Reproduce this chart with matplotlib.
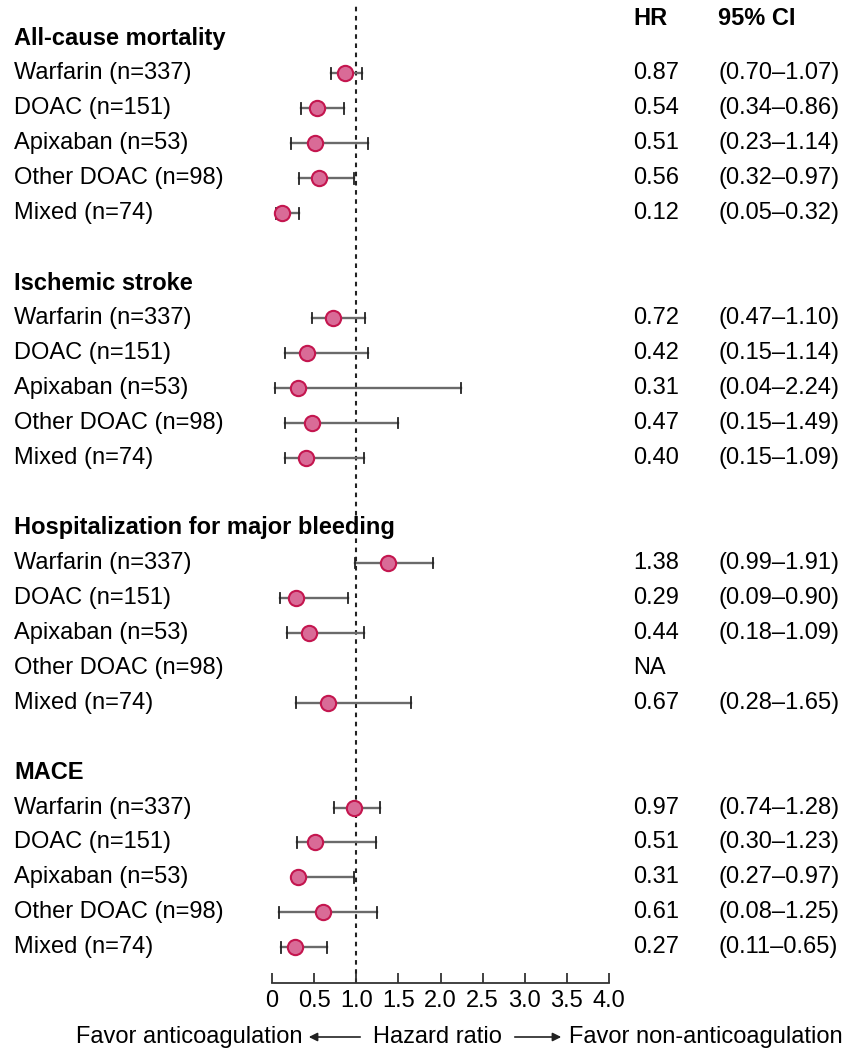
import matplotlib
matplotlib.use("Agg")
import matplotlib.pyplot as plt
import matplotlib.transforms as mtransforms
import numpy as np

plt.rcParams['font.family'] = ['Liberation Sans', 'DejaVu Sans']

outcomes = ["All-cause mortality", "Ischemic stroke",
            "Hospitalization for major bleeding", "MACE"]
groups = ["Warfarin (n=337)", "DOAC (n=151)", "Apixaban (n=53)",
          "Other DOAC (n=98)", "Mixed (n=74)"]

# HR and 95% CI per outcome, same order as groups (None = NA)
hr = [[0.87, 0.54, 0.51, 0.56, 0.12],
      [0.72, 0.42, 0.31, 0.47, 0.40],
      [1.38, 0.29, 0.44, None, 0.67],
      [0.97, 0.51, 0.31, 0.61, 0.27]]
ci_lo = [[0.70, 0.34, 0.23, 0.32, 0.05],
         [0.47, 0.15, 0.04, 0.15, 0.15],
         [0.99, 0.09, 0.18, None, 0.28],
         [0.74, 0.30, 0.27, 0.08, 0.11]]
ci_hi = [[1.07, 0.86, 1.14, 0.97, 0.32],
         [1.10, 1.14, 2.24, 1.49, 1.09],
         [1.91, 0.90, 1.09, None, 1.65],
         [1.28, 1.23, 0.97, 1.25, 0.65]]
xticks = [0, 0.5, 1.0, 1.5, 2.0, 2.5, 3.0, 3.5, 4.0]
xticklabels = ["0", "0.5", "1.0", "1.5", "2.0", "2.5", "3.0", "3.5", "4.0"]

W, H = 843, 1051
fig = plt.figure(figsize=(W / 100, H / 100), dpi=100)
ax = fig.add_axes([272 / W, 68 / H, 337 / W, (1046 - 68) / H])
ax.set_xlim(0, 4)
ax.set_ylim(27.02, -0.958)

fs = 17
trans = mtransforms.blended_transform_factory(fig.transFigure, ax.transData)

# header row for the numeric columns
ax.text(633 / W, -0.57, "HR", transform=trans, fontsize=fs, fontweight='bold',
        va='center', ha='left')
ax.text(718 / W, -0.57, "95% CI", transform=trans, fontsize=fs, fontweight='bold',
        va='center', ha='left')

for k, name in enumerate(outcomes):
    y0 = k * 7
    ax.text(14 / W, y0, name, transform=trans, fontsize=fs, fontweight='bold',
            va='center', ha='left')
    for j, g in enumerate(groups):
        y = y0 + 1 + j
        ax.text(14 / W, y, g, transform=trans, fontsize=fs, va='center', ha='left')
        h = hr[k][j]
        if h is None:
            ax.text(633 / W, y, "NA", transform=trans, fontsize=fs, va='center', ha='left')
            continue
        lo, hi = ci_lo[k][j], ci_hi[k][j]
        ax.text(633 / W, y, f"{h:.2f}", transform=trans, fontsize=fs,
                va='center', ha='left')
        ax.text(718 / W, y, f"({lo:.2f}\u2013{hi:.2f})", transform=trans,
                fontsize=fs, va='center', ha='left')
        ax.plot([lo, hi], [y, y], color='#6a6a6a', lw=1.7, zorder=2)
        ax.plot([lo, lo], [y - 0.15, y + 0.15], color='#222222', lw=1.3, zorder=2)
        ax.plot([hi, hi], [y - 0.15, y + 0.15], color='#222222', lw=1.3, zorder=2)
        ax.plot(h, y, 'o', ms=11, mfc='#d96b97', mec='#c4164f', mew=1.5, zorder=3)

ax.axvline(1.0, color='#222222', lw=1.5, ls=(0, (2.2, 2.2)), zorder=1)

for s in ['top', 'right', 'left']:
    ax.spines[s].set_visible(False)
ax.spines['bottom'].set_color('#333333')
ax.spines['bottom'].set_linewidth(1.3)
ax.set_yticks([])
ax.set_xticks(xticks)
ax.set_xticklabels(xticklabels)
ax.tick_params(axis='x', direction='in', length=7, width=1.3, color='#333333',
               labelsize=fs, pad=5)

# bottom caption
yb = 1 - 1037 / H
fig.text(76 / W, yb, "Favor anticoagulation", fontsize=fs, va='center', ha='left')
fig.text(437 / W, yb, "Hazard ratio", fontsize=fs, va='center', ha='center')
fig.text(569 / W, yb, "Favor non-anticoagulation", fontsize=fs, va='center', ha='left')
fig.add_artist(matplotlib.patches.FancyArrowPatch((363 / W, yb), (306 / W, yb),
               transform=fig.transFigure, arrowstyle='-|>,head_length=5,head_width=2.5',
               lw=1.2, color='#222222', mutation_scale=1))
fig.add_artist(matplotlib.patches.FancyArrowPatch((512 / W, yb), (564 / W, yb),
               transform=fig.transFigure, arrowstyle='-|>,head_length=5,head_width=2.5',
               lw=1.2, color='#222222', mutation_scale=1))

fig.savefig("out.png", dpi=100)
